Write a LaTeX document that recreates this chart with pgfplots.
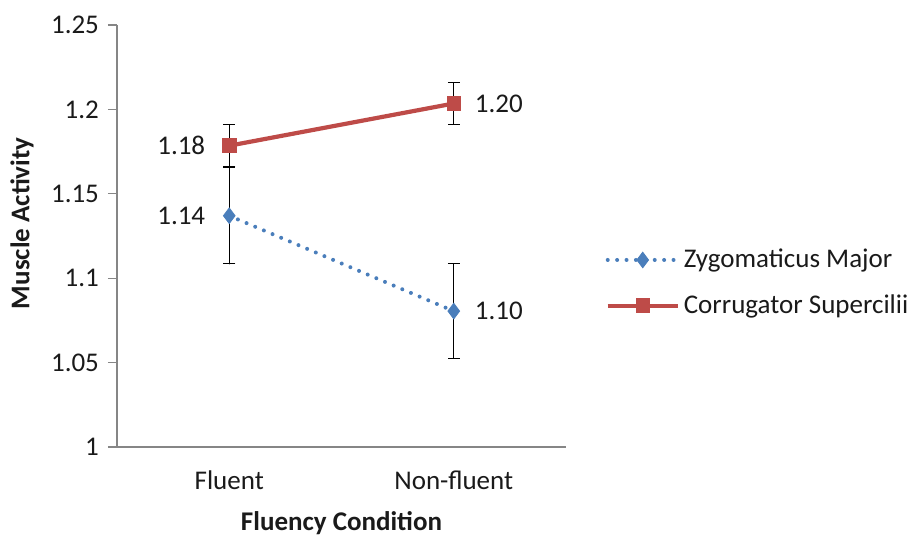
\documentclass[border=0pt]{standalone}
\usepackage{pgfplots}
\pgfplotsset{compat=1.18}
\usepackage{fontspec}
\setmainfont{Carlito}
\definecolor{zblue}{HTML}{4A7EBB}
\definecolor{cred}{HTML}{BE4B48}
\definecolor{axgray}{HTML}{868686}
\definecolor{txt}{HTML}{1A1A1A}
\newcommand{\fs}{\fontsize{13.5}{15}\selectfont}
\begin{document}
\begin{tikzpicture}
\path[use as bounding box] (-58.5pt,-44pt) rectangle (395.5pt,223.5pt);
\begin{axis}[
  scale only axis,
  width=224.5pt, height=211pt,
  at={(0,0)}, anchor=south west,
  xmin=-0.5, xmax=1.5,
  ymin=1, ymax=1.25,
  xtick={0,1}, xticklabels={Fluent,Non-fluent},
  ytick={1,1.05,1.1,1.15,1.2,1.25},
  yticklabels={1,1.05,1.1,1.15,1.2,1.25},
  axis y line*=left, axis x line*=bottom,
  axis line style={axgray, line width=0.6pt, -},
  tick align=outside,
  major tick length=4.5pt,
  ytick style={axgray, line width=0.6pt},
  xtick style={draw=none},
  tick label style={font=\fs, text=txt},
  /pgf/number format/assume math mode=true,
  yticklabel style={xshift=-1pt},
  xticklabel style={yshift=-4pt},
  ylabel={\textbf{Muscle Activity}},
  ylabel style={at={(axis description cs:-0.2116,0.53)}, anchor=center, font=\fs, text=txt},
  xlabel={\textbf{Fluency Condition}},
  xlabel style={at={(axis description cs:0.5,0)}, yshift=-38pt, anchor=center, font=\fs, text=txt},
  legend style={at={(axis description cs:1.074,0.389)}, anchor=west, draw=none, fill=none,
    font=\fs, text=txt, row sep=8pt},
  legend cell align=left,
  legend image code/.code={\draw[mark repeat=2,mark phase=2,#1] plot coordinates {(0pt,0pt) (17.5pt,0pt) (35pt,0pt)};},
  clip=false,
]
\addplot[zblue, line width=2pt, line cap=round, dash pattern=on 0pt off 4.7pt,
  mark=diamond*, mark size=3.9pt, mark options={solid, fill=zblue, draw=zblue, line width=0.4pt},
  error bars/.cd, y dir=both, y explicit,
  error bar style={black, line width=0.5pt, solid},
  error mark options={black, line width=0.5pt, mark size=3pt, rotate=90, solid}]
  coordinates {(0,1.137) +- (0,0.0285) (1,1.0805) +- (0,0.028)};
\addlegendentry{Zygomaticus Major}
\addplot[cred, line width=2.1pt, solid,
  mark=square*, mark size=3.4pt, mark options={fill=cred, draw=cred, line width=0.4pt},
  error bars/.cd, y dir=both, y explicit,
  error bar style={black, line width=0.5pt},
  error mark options={black, line width=0.5pt, mark size=3pt, rotate=90}]
  coordinates {(0,1.1785) +- (0,0.0123) (1,1.2035) +- (0,0.0123)};
\addlegendentry{Corrugator Supercilii}
\node[anchor=east, font=\fs, text=txt] at (axis cs:0,1.1785) [xshift=-8.5pt] {1.18};
\node[anchor=east, font=\fs, text=txt] at (axis cs:0,1.137) [xshift=-8.5pt] {1.14};
\node[anchor=west, font=\fs, text=txt] at (axis cs:1,1.2035) [xshift=7pt] {1.20};
\node[anchor=west, font=\fs, text=txt] at (axis cs:1,1.0805) [xshift=7pt] {1.10};
\end{axis}
\end{tikzpicture}
\end{document}
